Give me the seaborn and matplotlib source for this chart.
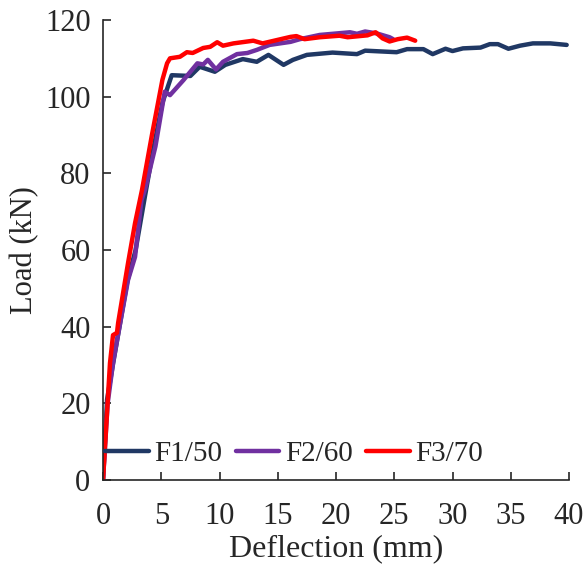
import numpy as np
import pandas as pd
import seaborn as sns
import matplotlib.pyplot as plt

# load-deflection data
f1_x = [0, 0.35, 0.9, 1.3, 2.1, 2.8, 3.6, 4.3, 5.1, 5.9, 7.5, 8.3, 9.6, 10.5, 12.0,
        13.2, 14.2, 15.5, 16.3, 17.5, 19.7, 21.8, 22.5, 25.2, 26.1, 27.5, 28.3,
        29.4, 30.0, 30.9, 32.4, 33.2, 33.9, 34.8, 35.8, 36.9, 38.4, 39.8]
f1_y = [0, 21, 31, 38, 52, 60, 74, 86, 98.4, 105.6, 105.4, 107.8, 106.5, 108.3, 109.8,
        109.1, 110.9, 108.3, 109.6, 110.9, 111.5, 111.1, 112.0, 111.6, 112.4, 112.4, 111.1,
        112.5, 111.9, 112.6, 112.8, 113.7, 113.7, 112.5, 113.3, 113.9, 113.9, 113.5]

f2_x = [0, 0.4, 0.86, 1.3, 2.15, 2.75, 3.3, 3.6, 4.5, 5.3, 5.75, 6.9, 8.1, 8.6, 9.0,
        9.7, 10.3, 11.5, 12.4, 13.2, 14.3, 16.1, 16.9, 18.6, 21.2, 21.8, 22.5,
        23.5, 24.6, 24.9]
f2_y = [0, 20, 30.5, 38, 52.2, 58.2, 73, 75.7, 87, 101.3, 100.4, 104.3, 108.7, 108.4, 109.6,
        107.1, 109.1, 111.1, 111.4, 112.2, 113.5, 114.3, 115.0, 116.1, 116.8, 116.4, 117.0,
        116.5, 115.5, 115.0]

f3_x = [0, 0.6, 0.86, 1.2, 1.3, 2.15, 2.75, 3.35, 4.2, 5.1, 5.5, 5.75, 6.6, 7.2, 7.7,
        8.6, 9.2, 9.8, 10.3, 11.2, 12.9, 13.7, 16.1, 16.6, 17.3, 18.6, 20.3,
        21.0, 22.7, 23.4, 24.0, 24.6, 25.3, 26.1, 26.8]
f3_y = [0, 30.5, 37.8, 38.4, 41, 56.6, 67, 75.7, 90, 104.4, 108.7, 110.0, 110.4, 111.6, 111.4,
        112.7, 113.0, 114.2, 113.3, 113.9, 114.6, 113.9, 115.6, 115.8, 115.0, 115.5, 115.9,
        115.5, 116.0, 116.8, 115.2, 114.4, 115.0, 115.4, 114.6]

labels = ["F1/50", "F2/60", "F3/70"]
colors = ["#203864", "#7030A0", "#FF0000"]

df = pd.concat([
    pd.DataFrame({"Deflection": f1_x, "Load": f1_y, "Specimen": labels[0]}),
    pd.DataFrame({"Deflection": f2_x, "Load": f2_y, "Specimen": labels[1]}),
    pd.DataFrame({"Deflection": f3_x, "Load": f3_y, "Specimen": labels[2]}),
], ignore_index=True)

sns.set_style("ticks")
plt.rcParams["font.family"] = ["Liberation Serif", "DejaVu Serif"]

fig = plt.figure(figsize=(5.87, 5.65), dpi=100)
ax = fig.add_axes([103 / 587, 1 - 480 / 565, (569 - 103) / 587, (480 - 20) / 565])

sns.lineplot(data=df, x="Deflection", y="Load", hue="Specimen", palette=colors,
             sort=False, estimator=None, linewidth=3.2, ax=ax)

ax.set_xlim(0, 40)
ax.set_ylim(0, 120)
ax.set_xticks(np.arange(0, 41, 5))
ax.set_yticks(np.arange(0, 121, 20))
ax.tick_params(direction="in", length=6, width=1.2, labelsize=22)
ax.tick_params(axis="x", pad=16)
ax.tick_params(axis="y", pad=9)
for s in ["left", "bottom"]:
    ax.spines[s].set_linewidth(1.2)
sns.despine(ax=ax)
ax.set_xlabel("Deflection (mm)", fontsize=23, labelpad=2)
ax.set_ylabel("Load (kN)", fontsize=22, labelpad=4)

ax.legend(loc="center", bbox_to_anchor=(0.41, 0.056), ncol=3, frameon=False,
          fontsize=21, handlelength=1.5, handletextpad=0.2, columnspacing=0.45)

fig.savefig("out.png", dpi=100)
